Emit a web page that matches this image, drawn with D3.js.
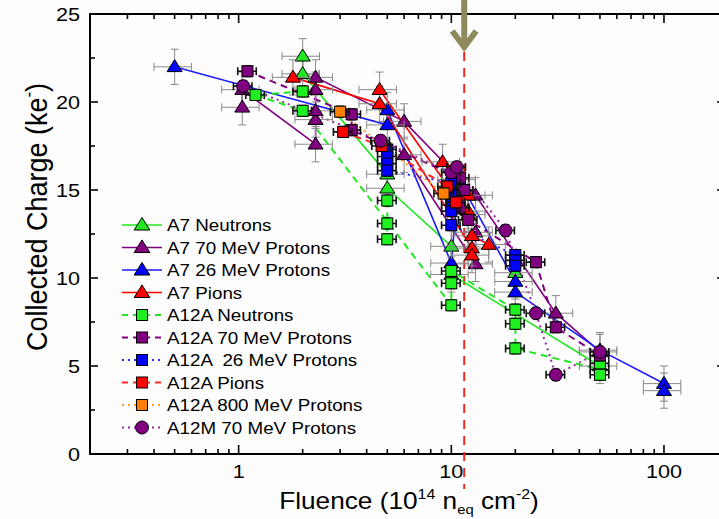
<!DOCTYPE html>
<html>
<head>
<meta charset="utf-8">
<script src="https://cdn.jsdelivr.net/npm/d3@7"></script>
<style>
  body { margin: 0; background: #fdfdfd; }
  svg text { font-family: "Liberation Sans", Arial, sans-serif; fill: #000; }
</style>
</head>
<body>
<svg id="chart" width="719" height="519"></svg>
<script>
// ---------------- data (fluence in 1e14 neq/cm2, charge in ke-) ----------------
// null entries split a series into separately connected runs
const a7NeutronsFluence   = [2.0, 2.0, 5.0, 5.0, 10, 10, 50, null, 20];
const a7NeutronsCharge    = [22.6, 21.6, 15.9, 15.1, 11.8, 10.2, 5.0, null, 10.3];

const a7P70Fluence        = [1.04, 1.04, 2.3, 2.3, 2.3, 2.3, 2.3, 6.0, 13, 31, 50, null, 6.0, 13, 13];
const a7P70Charge         = [19.7, 20.7, 17.6, 19.0, 19.5, 20.7, 21.4, 18.9, 14.7, 8.0, 5.8, null, 17.0, 10.8, 12.6];

const a7P26Fluence        = [0.5, 5.0, 5.0, 10, 10.8, 20, 20, 50, 100, 100];
const a7P26Charge         = [22.0, 18.7, 19.55, 10.85, 15.6, 9.8, 9.2, 5.9, 4.0, 3.6];

const a7PionsFluence      = [1.8, 4.6, 12.5, 12.5, 12.5, 15, null, 4.6, 12, 12, 12, 9.1];
const a7PionsCharge       = [21.4, 19.9, 11.7, 11.3, 12.4, 11.9, null, 20.7, 13.6, 13.8, 14.7, 16.6];

const a12aNeutronsFluence = [2.0, 1.2, 2.0, 10, 10, 10, 20, 20, 20, 50, 50, 50, null, 5.0, 5.0, 5.0];
const a12aNeutronsCharge  = [20.6, 20.4, 19.5, 8.45, 9.7, 10.4, 8.2, 7.4, 6.0, 4.8, 4.5, 5.15, null, 14.4, 13.1, 12.2];

const a12aP70Fluence      = [1.1, 3.4, 3.4, 11, 11.5, 11, 12, 25, 31, 50];
const a12aP70Charge       = [21.75, 19.3, 18.4, 15.7, 15.0, 14.0, 13.3, 10.9, 7.2, 5.6];

const a12aP26Fluence      = [5.0, 5.0, 5.0, 5.0, 10, 10, 10, 10, 10, 20, 20, 20];
const a12aP26Charge       = [17.3, 16.9, 16.5, 16.1, 15.4, 14.7, 14.15, 13.8, 13.0, 11.3, 11.0, 10.7];

const a12aPionsFluence    = [3.1, 4.7, 9.6, 10.5];
const a12aPionsCharge     = [18.3, 17.5, 15.2, 14.3];

const a12aP800Fluence     = [3.0, 9.2];
const a12aP800Charge      = [19.45, 14.8];

const a12mP70Fluence      = [1.05, 4.65, 10.0, 10.6, 18, 25, 31, 50];
const a12mP70Charge       = [20.9, 17.8, 16.0, 16.3, 12.7, 8.0, 4.5, 5.8];

const seriesLabels = ["A7 Neutrons", "A7 70 MeV Protons", "A7 26 MeV Protons", "A7 Pions",
                      "A12A Neutrons", "A12A 70 MeV Protons", "A12A  26 MeV Protons", "A12A Pions",
                      "A12A 800 MeV Protons", "A12M 70 MeV Protons"];

const xTickValues = [1, 10, 100];
const yTickValues = [0, 5, 10, 15, 20, 25];
const markerLineFluence = 11.5;

// ---------------- styles ----------------
const styles = [
  {f: a7NeutronsFluence,   q: a7NeutronsCharge,   color: "#22e622", line: "#22e622", sym: "tri", dash: null,   group: "A7"},
  {f: a7P70Fluence,        q: a7P70Charge,        color: "#800080", line: "#800080", sym: "tri", dash: null,   group: "A7"},
  {f: a7P26Fluence,        q: a7P26Charge,        color: "#0000ff", line: "#1a1aff", sym: "tri", dash: null,   group: "A7"},
  {f: a7PionsFluence,      q: a7PionsCharge,      color: "#ff0000", line: "#ff0000", sym: "tri", dash: null,   group: "A7"},
  {f: a12aNeutronsFluence, q: a12aNeutronsCharge, color: "#1ff01f", line: "#22e622", sym: "sq",  dash: "7,5",  group: "A12"},
  {f: a12aP70Fluence,      q: a12aP70Charge,      color: "#800080", line: "#800080", sym: "sq",  dash: "7,5",  group: "A12"},
  {f: a12aP26Fluence,      q: a12aP26Charge,      color: "#0000ff", line: "#2a2aff", sym: "sq",  dash: "2,4",  group: "A12"},
  {f: a12aPionsFluence,    q: a12aPionsCharge,    color: "#ff0000", line: "#ff2a2a", sym: "sq",  dash: "7,5",  group: "A12"},
  {f: a12aP800Fluence,     q: a12aP800Charge,     color: "#ff8000", line: "#ff9a2a", sym: "sq",  dash: "2,4",  group: "A12"},
  {f: a12mP70Fluence,      q: a12mP70Charge,      color: "#800080", line: "#9a2a9a", sym: "circ",dash: "2,4",  group: "A12"}
];

// ---------------- layout ----------------
const svg = d3.select("#chart");
const plot = {left: 90, right: 728, top: 14, bottom: 454};
const x = d3.scaleLog().domain([0.2, 200]).range([plot.left, plot.right]);
const y = d3.scaleLinear().domain([0, 25]).range([plot.bottom, plot.top]);
const SX = 1.14; // horizontal text stretch

function hText(parent, px, py, anchor, size) {
  const g = parent.append("g").attr("transform", `translate(${px},${py}) scale(${SX},1)`);
  return g.append("text").attr("text-anchor", anchor).attr("font-size", size);
}

// ---------------- axes ----------------
const axes = svg.append("g");
const majorLen = 8, minorLen = 5;
const minorX = [];
[0.1, 1, 10, 100].forEach(d => { for (let k = 1; k < 10; k++) { const v = d * k; if (v >= 0.2 && v <= 200) minorX.push(v); } });

// bottom & top ticks pointing inward
[[plot.bottom, -1], [plot.top, 1]].forEach(([yy, dir]) => {
  axes.selectAll(null).data(minorX).enter().append("line")
    .attr("x1", d => x(d)).attr("x2", d => x(d))
    .attr("y1", yy).attr("y2", d => yy + dir * (xTickValues.includes(d) ? majorLen + 1 : minorLen))
    .attr("stroke", "#000").attr("stroke-width", 1.6);
});
const yTicksAll = d3.range(0, 25.01, 2.5);
[[plot.left, 1, majorLen], [plot.right, -1, 11]].forEach(([xx, dir, len]) => {
  axes.selectAll(null).data(yTicksAll).enter().append("line")
    .attr("y1", d => y(d)).attr("y2", d => y(d))
    .attr("x1", xx).attr("x2", d => xx + dir * (d % 5 === 0 ? len : minorLen))
    .attr("stroke", "#000").attr("stroke-width", 1.6);
});
axes.append("rect").attr("x", plot.left).attr("y", plot.top)
  .attr("width", plot.right - plot.left).attr("height", plot.bottom - plot.top)
  .attr("fill", "none").attr("stroke", "#000").attr("stroke-width", 2);

yTickValues.forEach(v => {
  hText(axes, 80, y(v) + 7, "end", 19).text(v);
});
xTickValues.forEach(v => {
  hText(axes, x(v), 478, "middle", 19).text(v);
});

// axis titles
const xt = hText(svg, 409, 509, "middle", 23);
xt.append("tspan").text("Fluence (10");
xt.append("tspan").attr("font-size", 14).attr("dy", -10).text("14");
xt.append("tspan").attr("dy", 10).text(" n");
xt.append("tspan").attr("font-size", 13).attr("dy", 5).text("eq");
xt.append("tspan").attr("dy", -5).text(" cm");
xt.append("tspan").attr("font-size", 14).attr("dy", -10).text("-2");
xt.append("tspan").attr("dy", 10).text(")");

const ytG = svg.append("g").attr("transform", "translate(47,217) scale(1.08,1) rotate(-90)");
const yt = ytG.append("text").attr("text-anchor", "middle").attr("font-size", 27);
yt.append("tspan").text("Collected Charge (ke");
yt.append("tspan").attr("font-size", 17).attr("dy", -11).text("-");
yt.append("tspan").attr("dy", 11).text(")");

// ---------------- threshold marker ----------------
svg.append("line")
  .attr("x1", x(markerLineFluence)).attr("x2", x(markerLineFluence))
  .attr("y1", 52).attr("y2", 489)
  .attr("stroke", "#e8281e").attr("stroke-width", 2).attr("stroke-dasharray", "9,7");

// ---------------- data layer ----------------
const dataLayer = svg.append("g");
const toPoints = s => s.f.map((f, i) => (f == null ? null : {f, q: s.q[i]}));

// connecting lines
styles.forEach(s => {
  const pts = toPoints(s);
  const line = d3.line().defined(d => d != null).x(d => x(d.f)).y(d => y(d.q));
  dataLayer.append("path").datum(pts).attr("d", line)
    .attr("fill", "none").attr("stroke", s.line)
    .attr("stroke-width", s.dash ? 2 : 1.6)
    .attr("stroke-dasharray", s.dash);
});

function drawSymbol(g, sym, cx, cy, color, scale) {
  const k = scale || 1;
  if (sym === "tri") {
    const w = 7.5 * k, h = 12 * k;
    g.append("path").attr("d", `M${cx},${cy - h * 0.6} L${cx + w},${cy + h * 0.4} L${cx - w},${cy + h * 0.4} Z`)
      .attr("fill", color).attr("stroke", "#000").attr("stroke-width", 1);
  } else if (sym === "sq") {
    const a = 5.5 * k;
    g.append("rect").attr("x", cx - a).attr("y", cy - a).attr("width", 2 * a).attr("height", 2 * a)
      .attr("fill", color).attr("stroke", "#000").attr("stroke-width", 1);
  } else {
    g.append("circle").attr("cx", cx).attr("cy", cy).attr("r", 6.5 * k)
      .attr("fill", color).attr("stroke", "#000").attr("stroke-width", 1);
  }
}

// error bars and symbols
styles.forEach(s => {
  const pts = toPoints(s).filter(d => d != null);
  const g = dataLayer.append("g");
  const grey = s.group === "A7";
  const ec = grey ? "#8a8a8a" : "#111";
  const ew = grey ? 1 : 1.6;
  const relX = grey ? 0.2 : 0.1;
  const dq = grey ? 1.0 : 0.3;
  const cap = 4;
  pts.forEach(d => {
    const cx = x(d.f), cy = y(d.q);
    const xl = x(d.f * (1 - relX)), xr = x(d.f * (1 + relX));
    const yt = y(d.q + dq), yb = y(d.q - dq);
    g.append("path")
      .attr("d", `M${xl},${cy}H${xr}M${xl},${cy - cap}V${cy + cap}M${xr},${cy - cap}V${cy + cap}` +
                 `M${cx},${yt}V${yb}M${cx - cap},${yt}H${cx + cap}M${cx - cap},${yb}H${cx + cap}`)
      .attr("stroke", ec).attr("stroke-width", ew).attr("fill", "none");
  });
  pts.forEach(d => drawSymbol(g, s.sym, x(d.f), y(d.q), s.color));
});

// ---------------- legend ----------------
const legend = svg.append("g");
styles.forEach((s, i) => {
  const ly = 225 + i * 22.5;
  legend.append("line").attr("x1", 122).attr("x2", 162).attr("y1", ly).attr("y2", ly)
    .attr("stroke", s.line).attr("stroke-width", s.dash ? 2 : 1.6).attr("stroke-dasharray", s.dash ? (s.dash === "2,4" ? "2,4" : "6,5") : null);
  drawSymbol(legend, s.sym, 142, ly, s.color, s.sym === "tri" ? 1.05 : 1);
  hText(legend, 167, ly + 6, "start", 16.5).style("white-space", "pre").text(seriesLabels[i]);
});

// ---------------- arrow above the threshold line ----------------
const arrow = svg.append("g").attr("stroke", "#8f8a5c").attr("fill", "none")
  .attr("stroke-linecap", "butt").attr("stroke-linejoin", "miter");
const ax = x(markerLineFluence);
arrow.append("line").attr("x1", ax).attr("x2", ax).attr("y1", 0).attr("y2", 44).attr("stroke-width", 6);
arrow.append("path").attr("d", `M${ax - 12},${31} L${ax},${47} L${ax + 12},${31}`).attr("stroke-width", 6);
</script>
</body>
</html>
